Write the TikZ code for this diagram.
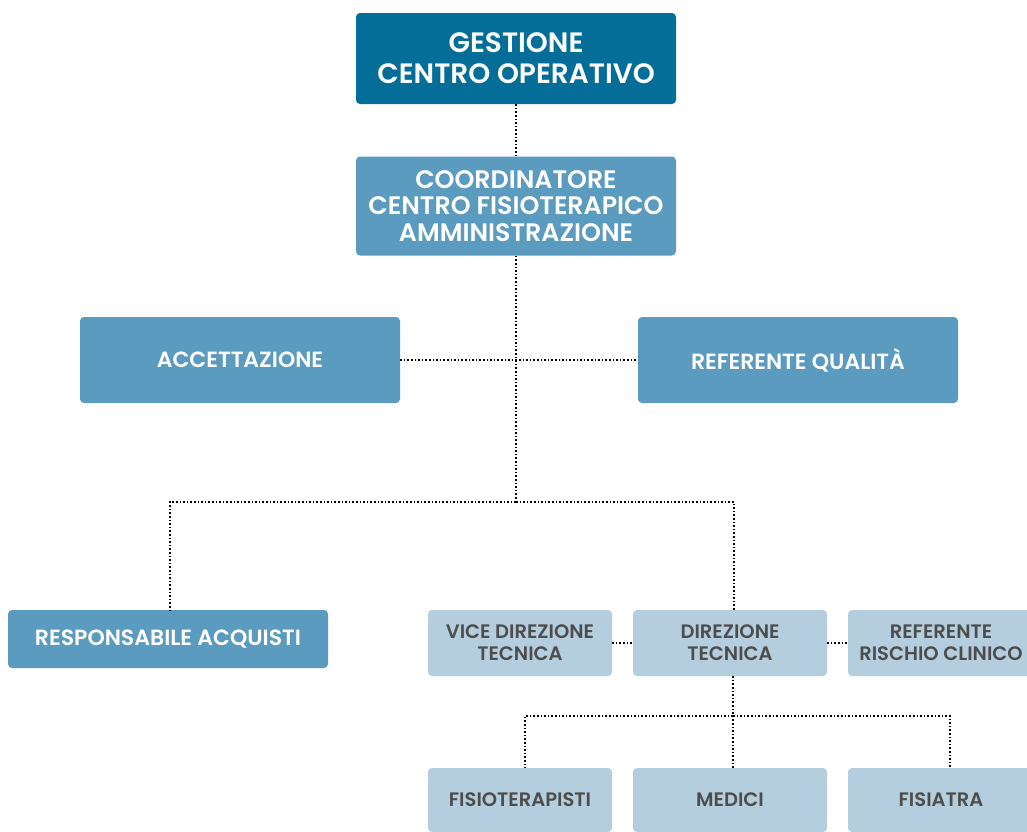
\documentclass[tikz,border=0pt]{standalone}
\usepackage{fontspec}
\setmainfont{Poppins}[BoldFont={Poppins SemiBold}]
\definecolor{darkteal}{HTML}{046E99}
\definecolor{midblue}{HTML}{5B9BBF}
\definecolor{paleblue}{HTML}{B5CEDF}
\definecolor{textgrey}{HTML}{4D4D4D}
\tikzset{
  TopStyle/.style = { rectangle, rounded corners=4pt, fill=darkteal,
                      text=white, align=center, inner sep=0pt,
                      font=\fontsize{28}{31}\selectfont\bfseries },
  MidStyle/.style = { rectangle, rounded corners=4pt, fill=midblue,
                      text=white, align=center, inner sep=0pt,
                      font=\fontsize{22}{26}\selectfont\bfseries },
  LowStyle/.style = { rectangle, rounded corners=4pt, fill=paleblue,
                      text=textgrey, align=center, inner sep=0pt,
                      font=\fontsize{19.5}{22}\selectfont\bfseries },
  LinkStyle/.style = { black, dotted, line width=1.6pt } }

\begin{document}
\begin{tikzpicture}[x=1pt,y=-1pt]
  \useasboundingbox (0,0) rectangle (1027,831);
  \clip (0,0) rectangle (1027,831);
  % upper levels
  \node[TopStyle, minimum width=320pt, minimum height=91pt] (gco) at (516,58.5)
       {GESTIONE\\CENTRO OPERATIVO};
  \node[MidStyle, minimum width=320pt, minimum height=99pt,
        font=\fontsize{25.3}{26.5}\selectfont\bfseries] (coord) at (516,206)
       {COORDINATORE\\CENTRO FISIOTERAPICO\\AMMINISTRAZIONE};
  \node[MidStyle, minimum width=320pt, minimum height=86pt] (acc) at (240,360)
       {ACCETTAZIONE};
  \node[MidStyle, minimum width=320pt, minimum height=86pt] (rq) at (798,360)
       {REFERENTE QUALITÀ};
  \node[MidStyle, minimum width=320pt, minimum height=58pt] (acq) at (168,639)
       {RESPONSABILE ACQUISTI};

  % technical area
  \node[LowStyle, minimum width=184pt, minimum height=66pt] (vdt) at (520,643)
       {VICE DIREZIONE\\TECNICA};
  \node[LowStyle, minimum width=194pt, minimum height=66pt] (dt) at (730,643)
       {DIREZIONE\\TECNICA};
  \node[LowStyle, minimum width=186pt, minimum height=66pt] (rrc) at (941,643)
       {REFERENTE\\RISCHIO CLINICO};
  \node[LowStyle, minimum width=184pt, minimum height=64pt] (fis) at (520,800)
       {FISIOTERAPISTI};
  \node[LowStyle, minimum width=194pt, minimum height=64pt] (med) at (730,800)
       {MEDICI};
  \node[LowStyle, minimum width=186pt, minimum height=64pt] (fia) at (941,800)
       {FISIATRA};

  \coordinate (hub) at (516,502);
  \coordinate (dhub) at (733,716);

  \draw[LinkStyle] (gco.south) -- (coord.north);
  \draw[LinkStyle] (coord.south) -- (hub);
  \draw[LinkStyle] (acc.east) -- (rq.west);
  \draw[LinkStyle] (hub) -| (acq.north -| 170,0);
  \draw[LinkStyle] (hub) -| (dt.north -| 734,0);
  \draw[LinkStyle] (vdt.east) -- (dt.west);
  \draw[LinkStyle] (dt.east) -- (rrc.west);
  \draw[LinkStyle] (dt.south -| dhub) -- (med.north -| dhub);
  \draw[LinkStyle] (dhub) -| (fis.north -| 525,0);
  \draw[LinkStyle] (dhub) -| (fia.north -| 950,0);
\end{tikzpicture}
\end{document}
